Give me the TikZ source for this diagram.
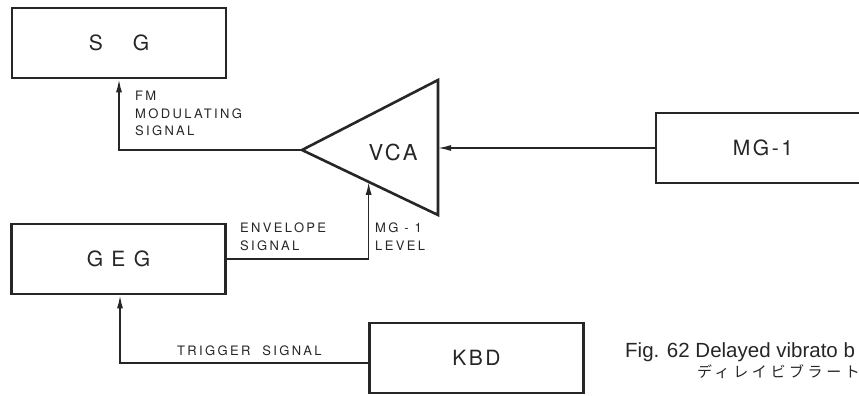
\documentclass[tikz,border=0pt]{standalone}
\usepackage{fontspec}
\setmainfont{TeX Gyre Heros}
\newfontfamily\boxfont[LetterSpace=12]{TeX Gyre Heros}
\newfontfamily\sigfont[LetterSpace=18]{TeX Gyre Heros}
\newfontfamily\capfont{Liberation Sans}
\newfontfamily\jpfont[LetterSpace=24]{Noto Sans CJK JP}
\usetikzlibrary{arrows.meta,calc,positioning}

\begin{document}
\begin{tikzpicture}[x=1pt,y=-1pt,color=black!85,
  blk/.style={draw,line width=2.6pt,minimum width=214pt,minimum height=70pt,inner sep=0pt,
    font=\boxfont\fontsize{21}{24}\selectfont},
  sig/.style={line width=1.6pt,-{Latex[length=13pt,width=6pt]}},
  lbl/.style={align=left,inner sep=0pt,font=\sigfont\fontsize{13}{17.5}\selectfont}]
  \useasboundingbox (0,0) rectangle (859,396);
  % blocks
  \node[blk] (SG)  at (119,43)    {S\hspace{30pt}G};
  \node[blk] (MG)  at (763,148)   {MG-1\hspace{8pt}};
  \node[blk] (GEG) at (118.5,259) {G E G};
  \node[blk] (KBD) at (476.5,358) {KBD};
  % amplifier
  \coordinate (vtop) at (438,80);
  \coordinate (vbot) at (438,215);
  \coordinate (vtip) at (302,150);
  \draw[line width=2.6pt,line join=miter] (vtop) -- (vbot) -- (vtip) -- cycle;
  \node[font=\boxfont\fontsize{22}{24}\selectfont] (VCA) at (393,152) {VCA};
  \coordinate (envin) at ($(vtip)!0.49!(vbot)$);
  % signals
  \draw[sig] (MG.west) -- (MG.west -| vtop);
  \draw[sig] (vtip) -| (SG.south);
  \draw[sig] (GEG.east) -| (envin);
  \draw[sig] ([yshift=-5pt]KBD.west) -| ([xshift=1.5pt]GEG.south);
  \node[lbl,anchor=north west] (fmlbl)  at (135,91)  {FM\\MODULATING\\SIGNAL};
  \node[lbl,anchor=north west] (envlbl) at (240,223) {ENVELOPE\\SIGNAL};
  \node[lbl,anchor=north west] (lvllbl) at (375,223) {MG - 1\\LEVEL};
  \node[lbl,anchor=west]       (trglbl) at (177,351) {TRIGGER\hspace{6pt} SIGNAL};
  % caption
  \node[anchor=base west,inner sep=0pt,font=\capfont\fontsize{20.5}{24}\selectfont] (cap)
    at (625,357) {Fig. 62 Delayed vibrato b};
  \node[anchor=base west,inner sep=0pt,font=\jpfont\fontsize{15}{16}\selectfont] (capjp)
    at (697,377) {ディレイビブラート};
\end{tikzpicture}
\end{document}
